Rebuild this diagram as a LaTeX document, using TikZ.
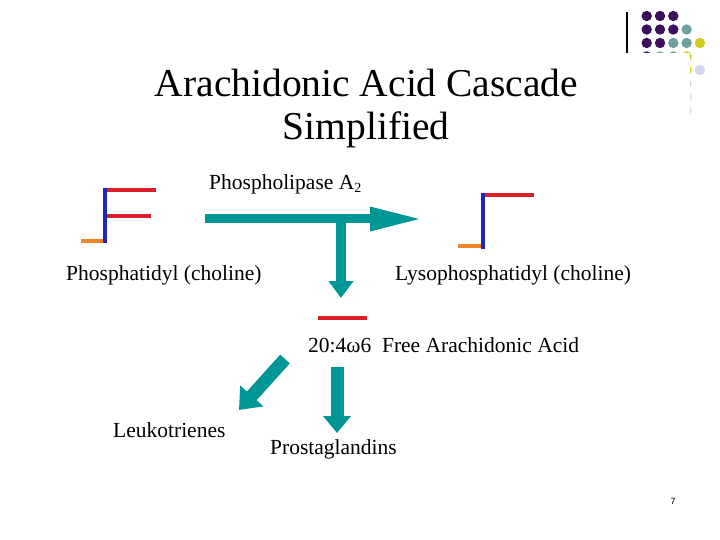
\documentclass[tikz,border=0pt]{standalone}
\usepackage{fontspec}
\setmainfont{Liberation Serif}
\setsansfont{Liberation Sans}
\usetikzlibrary{arrows.meta}

\definecolor{flowteal}{RGB}{0,150,150}
\definecolor{chainred}{RGB}{220,30,40}
\definecolor{chainblue}{RGB}{35,35,190}
\definecolor{chainorange}{RGB}{240,130,40}
\definecolor{dotpurple}{RGB}{60,15,95}
\definecolor{dotteal}{RGB}{110,160,160}
\definecolor{dotyellow}{RGB}{205,205,30}
\definecolor{dotlilac}{RGB}{215,215,235}

\begin{document}
\begin{tikzpicture}[x=1pt, y=-1pt,
  label text/.style={font=\fontsize{21.5}{24}\selectfont, anchor=base west, inner sep=0pt},
  title text/.style={font=\fontsize{39.5}{44}\selectfont, anchor=base, inner sep=0pt},
  red chain/.style={chainred, line width=4pt},
  blue chain/.style={chainblue, line width=4pt},
  orange chain/.style={chainorange, line width=4pt},
  flow arrow/.style={flowteal, line width=#1}]
  \useasboundingbox (0,0) rectangle (720,540);

  % corner decoration
  \foreach \col/\row/\c in {0/0/dotpurple,1/0/dotpurple,2/0/dotpurple,
      0/1/dotpurple,1/1/dotpurple,2/1/dotpurple,3/1/dotteal,
      0/2/dotpurple,1/2/dotpurple,2/2/dotteal,3/2/dotteal,4/2/dotyellow,
      0/3/dotpurple,1/3/dotteal,2/3/dotteal,3/3/dotyellow,
      3/4/dotyellow,4/4/dotlilac,3/5/dotlilac,3/6/dotlilac,3/7/dotlilac}
    \fill[\c] (646.7+13.3*\col, 16+13.5*\row) circle (5.2);
  \fill[white] (600,53) rectangle (690,540);
  \draw[line width=1.2pt] (627,12) -- (627,53);

  % title
  \node[title text] (title1) at (366.5,97) {Arachidonic Acid Cascade};
  \node[title text] (title2) at (366,140) {Simplified};

  % phosphatidyl choline
  \draw[red chain] (105,190) -- (156,190);
  \draw[red chain] (105,216) -- (151,216);
  \draw[blue chain] (105,188) -- (105,243);
  \draw[orange chain] (81,241) -- (103,241);
  \node[label text] (pc) at (66,280) {Phosphatidyl (choline)};

  % lysophosphatidyl choline
  \draw[red chain] (483,195) -- (534,195);
  \draw[blue chain] (483,193) -- (483,249);
  \draw[orange chain] (458,246) -- (481,246);
  \node[label text] (lpc) at (395,280) {Lysophosphatidyl (choline)};

  \node[label text] (pla) at (209,190) {Phospholipase A\raisebox{-0.3ex}{\fontsize{14}{16}\selectfont 2}};

  % free arachidonic acid
  \draw[red chain] (318,318) -- (367,318);
  \node[label text] (aa) at (308,352) {20:4ω6\enspace Free Arachidonic Acid};
  \node[label text] (lt) at (113,437) {Leukotrienes};
  \node[label text] (pg) at (270,454) {Prostaglandins};

  % flow arrows
  \coordinate (hstart) at (205,219);
  \coordinate (hend) at (423,219);
  \coordinate (vstart) at (341,214);
  \coordinate (vend) at (341,298);
  \coordinate (pgstart) at (337,367);
  \coordinate (pgend) at (337,433);
  \coordinate (ltstart) at (285,359);
  \coordinate (ltend) at (239,410);
  \draw[flow arrow=9pt, -{Triangle[length=53pt,width=22pt]}] (hstart) -- (hend);
  \draw[flow arrow=10pt, -{Triangle[length=17pt,width=24pt]}] (vstart) -- (vend);
  \draw[flow arrow=13pt, -{Triangle[length=17pt,width=27pt]}] (pgstart) -- (pgend);
  \draw[flow arrow=13pt, -{Triangle[length=19pt,width=30pt]}] (ltstart) -- (ltend);

  \node[font=\sffamily\fontsize{9}{10}\selectfont] (pnum) at (673,501) {7};
\end{tikzpicture}
\end{document}
